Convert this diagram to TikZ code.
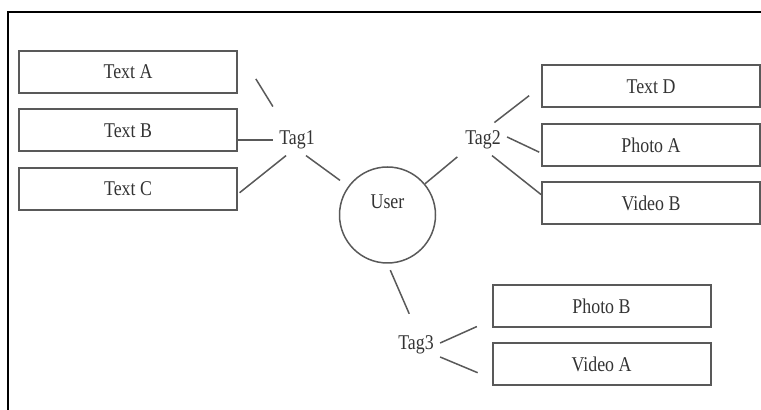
\documentclass[tikz,border=0pt]{standalone}
\usepackage{fontspec}
\setmainfont{Liberation Serif}[FakeStretch=0.85]
\usetikzlibrary{positioning}

\begin{document}
\begin{tikzpicture}[
    x=0.5pt, y=-0.5pt,
    node distance=7.25pt,
    every node/.style={font=\fontsize{10.5}{12}\selectfont, text=black!80},
    item/.style={rectangle, draw=black!65, line width=1pt, minimum width=109pt, minimum height=21pt},
    tag/.style={inner sep=3pt},
    person/.style={circle, draw=black!65, line width=0.75pt, minimum size=48pt, text depth=13pt},
    link/.style={draw=black!65, line width=0.75pt}
]
\useasboundingbox (0,0) rectangle (761,410);

% Frame
\draw[line width=1pt] (7.5,430) |- (780,12);

% User in the middle
\node[person] (user) at (387.5,215) {User};

% Tags
\node[tag] (tag1) at (297,140) {Tag1};
\node[tag] (tag2) at (483,140) {Tag2};
\node[tag] (tag3) at (416,345) {Tag3};

% Items of Tag1
\node[item] (textA) at (128,72) {Text A};
\node[item, below=of textA] (textB) {Text B};
\node[item, below=of textB] (textC) {Text C};

% Items of Tag2
\node[item] (textD) at (651,86.5) {Text D};
\node[item, below=of textD] (photoA) {Photo A};
\node[item, below=of photoA] (videoB) {Video B};

% Items of Tag3
\node[item] (photoB) at (601.5,306) {Photo B};
\node[item, below=of photoB] (videoA) {Video A};

% Links
\draw[link, shorten <=10.5pt, shorten >=17pt] (tag1.130) -- (textA.north east);
\draw[link] (tag1.west) -- (tag1.west -| textB.east);
\draw[link, shorten >=1pt] (tag1.235) -- ([yshift=-2.5pt]textC.east);
\draw[link, shorten >=5pt] (tag1.300) -- (user);

\draw[link, shorten >=1pt] (user) -- (tag2.south west);
\draw[link, shorten <=1.5pt, shorten >=7.5pt] (tag2.60) -- (textD.west);
\draw[link, shorten >=1pt] ([yshift=1.5pt]tag2.east) -- ([yshift=-4pt]photoA.west);
\draw[link] (tag2.-60) -- ([yshift=4.5pt]videoB.west);

\draw[link, shorten <=3.5pt, shorten >=8.5pt] (user.south) -- (tag3.north);
\draw[link, shorten >=8pt] ([yshift=1pt]tag3.east) -- ([yshift=4pt]photoB.south west);
\draw[link, shorten >=7.5pt] ([yshift=-6pt]tag3.east) -- ([yshift=-7pt]videoA.west);

\end{tikzpicture}
\end{document}
